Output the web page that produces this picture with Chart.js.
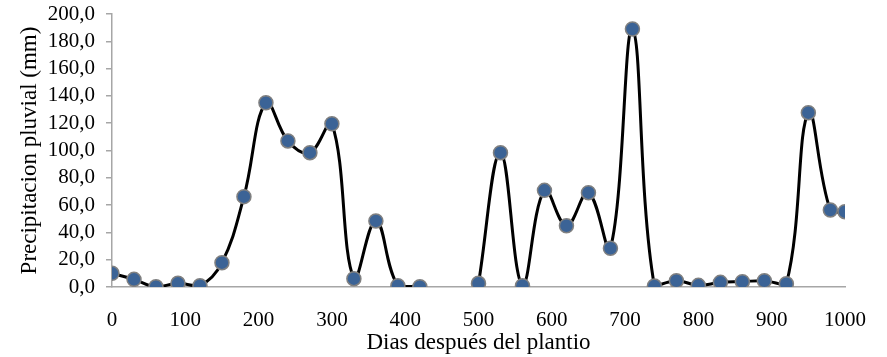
<!DOCTYPE html>
<html>
<head>
<meta charset="utf-8">
<script src="https://cdn.jsdelivr.net/npm/chart.js@4"></script>
<style>
  html, body { margin: 0; padding: 0; background: #fff; }
  #wrap { width: 887px; height: 357px; }
</style>
</head>
<body>
<div id="wrap"><canvas id="rainChart" width="887" height="357"></canvas></div>
<script>
// Days after planting and rainfall (mm)
const dias = [0, 30, 60, 90, 120, 150, 180, 210, 240, 270, 300, 330, 360, 390, 420, 450, 480,
  500, 530, 560, 590, 620, 650, 680, 710, 740, 770, 800, 830, 860, 890, 920, 950, 980, 1000];
const precipitacion = [10.0, 5.6, 0.2, 2.7, 1.0, 17.8, 66.2, 135.0, 107.0, 98.4, 119.6, 6.1, 48.4, 1.0, 0.2, null, null,
  2.7, 98.4, 1.0, 70.8, 44.9, 69.1, 28.4, 189.0, 0.7, 4.6, 1.2, 3.4, 3.9, 4.6, 2.4, 127.7, 56.4, 55.2];
const yTicks = [0, 20, 40, 60, 80, 100, 120, 140, 160, 180, 200];
const xTicks = [0, 100, 200, 300, 400, 500, 600, 700, 800, 900, 1000];

const points = dias.map((d, i) => ({ x: d, y: precipitacion[i] }));
const fmt = v => v.toFixed(1).replace('.', ',');

const ctx = document.getElementById('rainChart').getContext('2d');
const rainChart = new Chart(ctx, {
  type: 'line',
  data: {
    datasets: [{
      data: points,
      borderColor: '#000000',
      borderWidth: 3,
      tension: 0.4,
      spanGaps: false,
      pointRadius: 7,
      pointBackgroundColor: '#3B6396',
      pointBorderColor: '#808080',
      pointBorderWidth: 1.5
    }]
  },
  options: {
    responsive: false,
    animation: false,
    layout: { padding: { top: 14, right: 39, left: 0, bottom: 0 } },
    plugins: { legend: { display: false }, tooltip: { enabled: false } },
    scales: {
      x: {
        type: 'linear',
        min: 0, max: 1000,
        afterBuildTicks: axis => { axis.ticks = xTicks.map(v => ({ value: v })); },
        afterFit: axis => { axis.height = 70; },
        grid: { drawOnChartArea: false, drawTicks: false, color: '#A6A6A6' },
        border: { display: true, color: '#A6A6A6', width: 1.5 },
        ticks: { color: '#000', padding: 21, maxRotation: 0, autoSkip: false, callback: v => String(v),
                 font: { family: 'Liberation Serif', size: 21 } },
        title: { display: true, text: 'Dias después del plantio', color: '#000', padding: { top: 0, bottom: 0 },
                 font: { family: 'Liberation Serif', size: 23 } }
      },
      y: {
        min: 0, max: 200,
        afterBuildTicks: axis => { axis.ticks = yTicks.map(v => ({ value: v })); },
        afterFit: axis => { axis.width = 112; axis.paddingTop = 0; axis.paddingBottom = 0; },
        grid: { drawOnChartArea: false, drawTicks: true, tickLength: 6, color: '#A6A6A6', lineWidth: 1.5 },
        border: { display: true, color: '#A6A6A6', width: 1.5 },
        ticks: { color: '#000', padding: 11, autoSkip: false, callback: v => fmt(v),
                 font: { family: 'Liberation Serif', size: 21 } },
        title: { display: true, text: 'Precipitacion pluvial (mm)', color: '#000', padding: { top: 16, bottom: 0 },
                 font: { family: 'Liberation Serif', size: 23 } }
      }
    }
  }
});
</script>
</body>
</html>
